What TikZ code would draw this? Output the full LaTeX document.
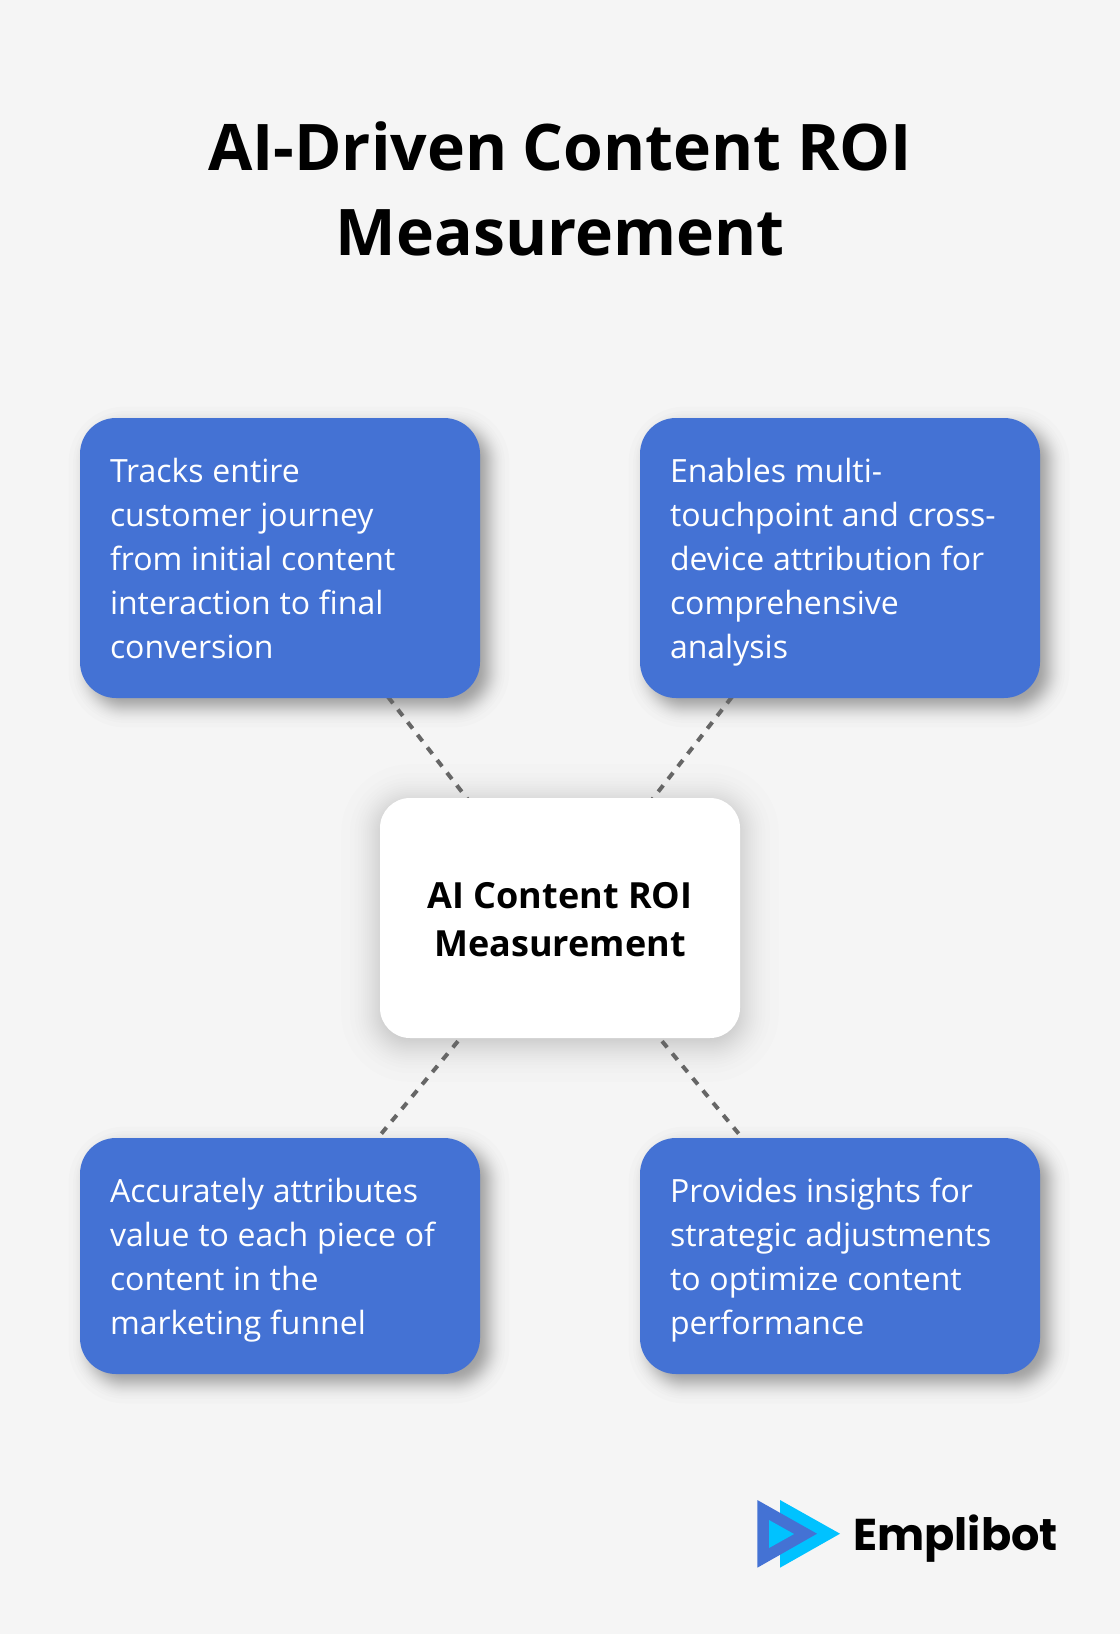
\documentclass[tikz,border=0pt]{standalone}
\usepackage{fontspec}
\setmainfont{Open Sans}
\newfontfamily\logofont{Poppins}
\usetikzlibrary{calc}
\pgfdeclarelayer{page}
\pgfdeclarelayer{shad}
\pgfdeclarelayer{conn}
\pgfsetlayers{page,shad,conn,main}
\definecolor{pagebg}{HTML}{F5F5F5}
\definecolor{boxblue}{HTML}{4472D4}
\definecolor{logocyan}{HTML}{00C2FF}
\definecolor{linegray}{HTML}{666666}
\newcommand{\lnst}{\spaceskip 6.6pt\relax\rule[-6pt]{0pt}{30pt}}
\newcommand{\hubst}{\spaceskip 7.02pt\relax\rule{0pt}{22.3pt}}
\newcommand{\bodyfont}{\fontsize{24pt}{33pt}\selectfont}
\newcommand{\hubfont}{\fontsize{27pt}{36pt}\selectfont\bfseries}
\newcommand{\headfont}{\fontsize{48.2pt}{63.75pt}\selectfont\bfseries\spaceskip 11.5pt\relax}
\tikzset{
  x=0.75pt,y=-0.75pt,
  bluebox/.style={fill=boxblue,text=white,rounded corners=27pt,inner sep=0pt,outer sep=0pt,
    minimum width=300pt,text width=255pt,align=left,font=\bodyfont},
  hubbox/.style={fill=white,text=black,rounded corners=22.5pt,inner sep=0pt,outer sep=0pt,
    minimum width=270pt,minimum height=180pt,text width=240pt,align=center,font=\hubfont},
  titletext/.style={text=black,align=center,inner sep=0pt,font=\headfont},
  spoke/.style={draw=linegray,line width=3pt,dash pattern=on 6pt off 6pt},
}
% node, dx, dy, radius(px), sigma(px), alpha of each of 32 layers
\newcommand{\softshadow}[6]{%
  \foreach \i in {1,...,32}{
    \pgfmathsetmacro{\pp}{(\i-0.5)/32}
    \pgfmathsetmacro{\dd}{#5*4.91*(\pp^0.14-(1-\pp)^0.14)}
    \pgfmathsetmacro{\rr}{max(#4+\dd,1)*0.75}
    \fill[black,opacity=#6,rounded corners=\rr pt]
      ($(#1.north west)+(#2-\dd,#3-\dd)$) rectangle ($(#1.south east)+(#2+\dd,#3+\dd)$);
  }
}
\begin{document}
\begin{tikzpicture}
\useasboundingbox (0,0) rectangle (1120,1634);
\begin{pgfonlayer}{page}
\fill[pagebg] (0,0) rectangle (1120,1634);
\end{pgfonlayer}

\node[titletext] (title) at (560,189) {AI-Driven Content ROI\\Measurement};

\node[bluebox,minimum height=210pt] (tl) at (280,558) {\lnst Tracks entire\\customer journey\\from initial content\\interaction to final\\\lnst conversion};
\node[bluebox,minimum height=210pt] (tr) at (840,558) {\lnst Enables multi-\\touchpoint and cross-\\device attribution for\\comprehensive\\\lnst analysis};
\node[bluebox,minimum height=177pt] (bl) at (280,1256) {\lnst Accurately attributes\\value to each piece of\\content in the\\\lnst marketing funnel};
\node[bluebox,minimum height=177pt] (br) at (840,1256) {\lnst Provides insights for\\strategic adjustments\\to optimize content\\\lnst performance};
\node[hubbox] (hub) at (560,918) {\hubst AI Content ROI\\Measurement};

\begin{pgfonlayer}{shad}
  \softshadow{tl}{9}{9}{36}{9.5}{0.0105}
  \softshadow{tr}{9}{9}{36}{9.5}{0.0105}
  \softshadow{bl}{9}{9}{36}{9.5}{0.0105}
  \softshadow{br}{9}{9}{36}{9.5}{0.0105}
  \softshadow{hub}{0}{5}{30}{18}{0.0065}
\end{pgfonlayer}

\begin{pgfonlayer}{conn}
  \draw[spoke] (tl.center) -- (hub.center);
  \draw[spoke] (tr.center) -- (hub.center);
  \draw[spoke] (hub.center) -- (bl.center);
  \draw[spoke] (hub.center) -- (br.center);
\end{pgfonlayer}

% logo
\fill[logocyan] (780,1500) -- (840,1533.7) -- (780,1567.7) -- cycle;
\fill[boxblue] (757.3,1500) -- (817,1533.7) -- (757.3,1567.7) -- cycle;
\fill[logocyan] (769,1520) -- (794,1534) -- (769,1548) -- cycle;
\node[anchor=base west,inner sep=0pt,text=black,font=\logofont\fontsize{33.4pt}{40pt}\selectfont\bfseries] (brand) at (853,1550.7) {Emplibot};
\end{tikzpicture}
\end{document}
